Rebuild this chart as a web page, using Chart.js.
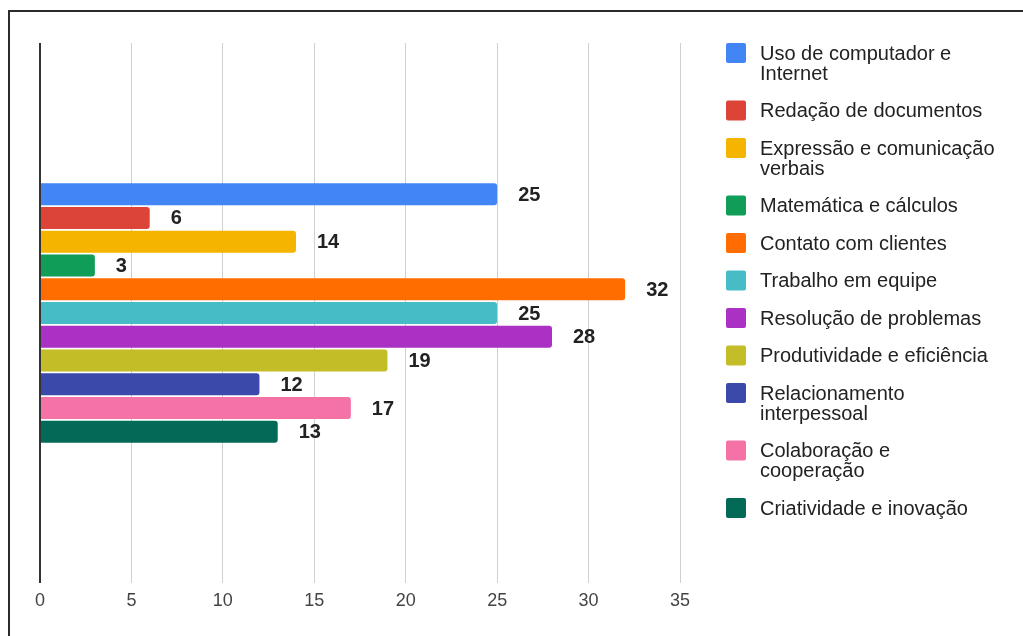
<!DOCTYPE html>
<html lang="pt">
<head>
<meta charset="utf-8">
<title>Competências</title>
<script src="https://cdn.jsdelivr.net/npm/chart.js@4.4.1/dist/chart.umd.min.js"></script>
<style>
  html, body { margin: 0; padding: 0; background: #fff; }
  #wrap { position: relative; width: 1023px; height: 636px; overflow: hidden; }
  #frame {
    position: absolute; left: 8px; top: 10px; width: 1100px; height: 700px;
    border-top: 2px solid #2b2b2b; border-left: 2px solid #2b2b2b;
    pointer-events: none;
  }
</style>
</head>
<body>
<div id="wrap">
  <canvas id="c" width="1023" height="636"></canvas>
  <div id="frame"></div>
</div>
<script>
// Skills and how many answers mentioned each one
const skills = [
  'Uso de computador e Internet',
  'Redação de documentos',
  'Expressão e comunicação verbais',
  'Matemática e cálculos',
  'Contato com clientes',
  'Trabalho em equipe',
  'Resolução de problemas',
  'Produtividade e eficiência',
  'Relacionamento interpessoal',
  'Colaboração e cooperação',
  'Criatividade e inovação'
];
const counts = [25, 6, 14, 3, 32, 25, 28, 19, 12, 17, 13];
const colors = [
  '#4285f4', '#db4437', '#f4b400', '#0f9d58', '#ff6d01', '#46bdc6',
  '#ab30c4', '#c3be27', '#3b49ab', '#f472a6', '#036a58'
];
const xTicks = [0, 5, 10, 15, 20, 25, 30, 35];

const FONT = '"Liberation Sans", Arial, Helvetica, sans-serif';

// Value written to the right of each bar
const valueLabels = {
  id: 'valueLabels',
  afterDatasetsDraw(chart) {
    const ctx = chart.ctx;
    ctx.save();
    ctx.font = `bold 20px ${FONT}`;
    ctx.fillStyle = '#222';
    ctx.textAlign = 'left';
    ctx.textBaseline = 'middle';
    chart.data.datasets.forEach((ds, i) => {
      const bar = chart.getDatasetMeta(i).data[0];
      ctx.fillText(String(ds.data[0]), bar.x + 21, bar.y + 1);
    });
    ctx.restore();
  }
};

function wrapText(ctx, text, maxWidth) {
  const words = text.split(' ');
  const lines = [];
  let line = '';
  words.forEach(w => {
    const test = line ? line + ' ' + w : w;
    if (line && ctx.measureText(test).width > maxWidth) {
      lines.push(line);
      line = w;
    } else {
      line = test;
    }
  });
  if (line) lines.push(line);
  return lines;
}

// Legend column on the right, with wrapped names
const sideLegend = {
  id: 'sideLegend',
  afterDraw(chart) {
    const ctx = chart.ctx;
    ctx.save();
    ctx.font = `20px ${FONT}`;
    ctx.textAlign = 'left';
    ctx.textBaseline = 'middle';
    let y = 53;
    chart.data.datasets.forEach(ds => {
      const lines = wrapText(ctx, ds.label, 237);
      ctx.fillStyle = ds.backgroundColor;
      ctx.beginPath();
      if (ctx.roundRect) ctx.roundRect(726, y - 10, 20, 20, 2);
      else ctx.rect(726, y - 10, 20, 20);
      ctx.fill();
      ctx.fillStyle = '#222';
      lines.forEach((ln, k) => ctx.fillText(ln, 760, y + 1 + k * 20));
      y += 37.5 + 20 * (lines.length - 1);
    });
    ctx.restore();
  }
};

new Chart(document.getElementById('c'), {
  type: 'bar',
  data: {
    labels: [''],
    datasets: skills.map((name, i) => ({
      label: name,
      data: [counts[i]],
      backgroundColor: colors[i],
      borderRadius: 3,
      borderSkipped: 'start'
    }))
  },
  options: {
    indexAxis: 'y',
    responsive: false,
    animation: false,
    devicePixelRatio: 1,
    layout: { padding: { left: 40, right: 343, top: 43, bottom: 0 } },
    datasets: { bar: { categoryPercentage: 0.484, barPercentage: 0.92 } },
    plugins: { legend: { display: false }, tooltip: { enabled: false } },
    scales: {
      y: { display: false },
      x: {
        min: xTicks[0],
        max: xTicks[xTicks.length - 1],
        afterBuildTicks(scale) { scale.ticks = xTicks.map(v => ({ value: v })); },
        ticks: { padding: 7, color: '#444', font: { size: 18, family: FONT } },
        grid: {
          drawTicks: false,
          color: c => (c.tick && c.tick.value === 0 ? '#333' : '#d0d0d0'),
          lineWidth: c => (c.tick && c.tick.value === 0 ? 2 : 1)
        },
        border: { display: false },
        afterFit(scale) { scale.height = 53; }
      }
    }
  },
  plugins: [valueLabels, sideLegend]
});
</script>
</body>
</html>
